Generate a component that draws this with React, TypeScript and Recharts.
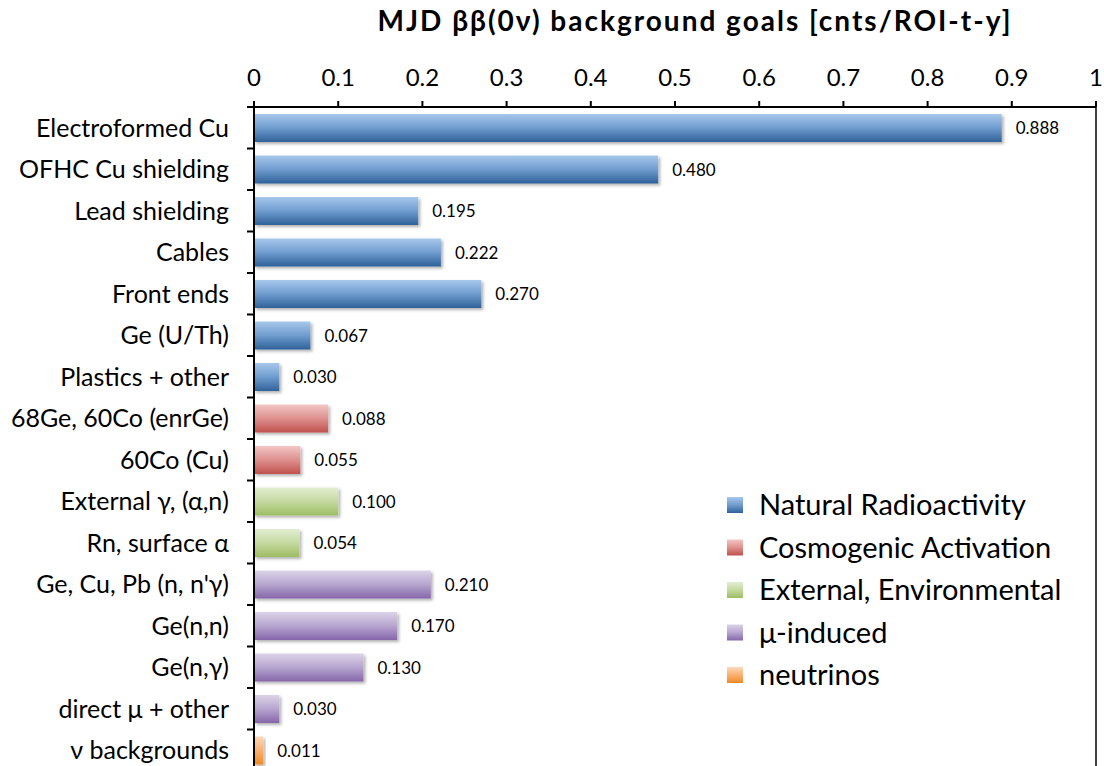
import {
  Bar,
  BarChart,
  Cell,
  LabelList,
  Legend,
  ReferenceLine,
  XAxis,
  YAxis,
} from "recharts";

const categories = [
  "Electroformed Cu",
  "OFHC Cu shielding",
  "Lead shielding",
  "Cables",
  "Front ends",
  "Ge (U/Th)",
  "Plastics + other",
  "68Ge, 60Co (enrGe)",
  "60Co (Cu)",
  "External γ, (α,n)",
  "Rn, surface α",
  "Ge, Cu, Pb (n, n'γ)",
  "Ge(n,n)",
  "Ge(n,γ)",
  "direct μ + other",
  "ν backgrounds",
];
const goals = [
  0.888, 0.48, 0.195, 0.222, 0.27, 0.067, 0.03, 0.088, 0.055, 0.1, 0.054, 0.21,
  0.17, 0.13, 0.03, 0.011,
];
const groupOf = [0, 0, 0, 0, 0, 0, 0, 1, 1, 2, 2, 3, 3, 3, 3, 4];
const groups = [
  "Natural Radioactivity",
  "Cosmogenic Activation",
  "External, Environmental",
  "μ-induced",
  "neutrinos",
];
const xTicks = [0, 0.1, 0.2, 0.3, 0.4, 0.5, 0.6, 0.7, 0.8, 0.9, 1];

// light top -> dark bottom, one per group
const shades = [
  ["#a7c8ec", "#6f9ccf", "#2f6199"],
  ["#f3c6c5", "#dd908e", "#c0504d"],
  ["#e3eed2", "#c4d9a0", "#9dbd62"],
  ["#dcd3e8", "#b6a5cf", "#8566aa"],
  ["#fdd9b9", "#f9b070", "#f08a26"],
];

const FONT = "Lato, 'Open Sans', sans-serif";
const AXIS_W = 246;
const PLOT_LEFT = 8 + AXIS_W;
const BAND = 664 / categories.length;

const data = categories.map((name, i) => ({
  name,
  goal: goals[i],
  group: groupOf[i],
}));

function CategoryTick({ y, payload }: any) {
  return (
    <g>
      <line
        x1={PLOT_LEFT - 7}
        x2={PLOT_LEFT}
        y1={y - BAND / 2}
        y2={y - BAND / 2}
        stroke="#000"
        strokeWidth={2}
      />
      <text
        x={PLOT_LEFT - 25}
        y={y}
        dy="0.36em"
        textAnchor="end"
        fontSize={25}
        fontFamily={FONT}
        fill="#000"
      >
        {payload.value}
      </text>
    </g>
  );
}

function GroupLegend() {
  return (
    <svg width={380} height={235} style={{ display: "block" }}>
      {groups.map((g, i) => (
        <g key={g} transform={`translate(0, ${12 + i * 42.5})`}>
          <rect x={0} y={0} width={16} height={16} fill={`url(#grad${i})`} />
          <text
            x={32}
            y={8}
            dy="0.36em"
            fontSize={29}
            fontFamily={FONT}
            fill="#000"
          >
            {g}
          </text>
        </g>
      ))}
    </svg>
  );
}

export default function App() {
  return (
    <div
      style={{
        position: "absolute",
        left: 0,
        top: 0,
        width: 1104,
        height: 766,
        overflow: "hidden",
        background: "#fff",
      }}
    >
      <svg
        width={1104}
        height={60}
        style={{ position: "absolute", left: 0, top: 0, zIndex: 1 }}
      >
        <text
          x={695}
          y={31}
          textAnchor="middle"
          fontSize={28}
          fontWeight="bold"
          letterSpacing={2}
          fontFamily={FONT}
          fill="#000"
        >
          MJD ββ(0ν) background goals [cnts/ROI-t-y]
        </text>
      </svg>
      <BarChart
        width={1104}
        height={780}
        data={data}
        layout="vertical"
        margin={{ top: 8, right: 8, bottom: 9, left: 8 }}
      >
        <defs>
          {shades.map((s, i) => (
            <linearGradient key={i} id={`grad${i}`} x1="0" y1="0" x2="0" y2="1">
              <stop offset="0%" stopColor={s[0]} />
              <stop offset="50%" stopColor={s[1]} />
              <stop offset="100%" stopColor={s[2]} />
            </linearGradient>
          ))}
          <filter id="barShadow" x="-10%" y="-20%" width="130%" height="160%">
            <feDropShadow dx="2" dy="2" stdDeviation="1.5" floodColor="#000" floodOpacity="0.3" />
          </filter>
        </defs>
        <XAxis
          type="number"
          orientation="top"
          domain={[0, 1]}
          ticks={xTicks}
          interval={0}
          height={99}
          tickSize={6}
          tickMargin={15}
          axisLine={{ stroke: "#000", strokeWidth: 2 }}
          tickLine={{ stroke: "#000", strokeWidth: 2 }}
          tick={{ fill: "#000", fontSize: 24, fontFamily: FONT }}
          allowDataOverflow
        />
        <YAxis
          type="category"
          dataKey="name"
          width={AXIS_W}
          interval={0}
          tickLine={false}
          axisLine={{ stroke: "#000", strokeWidth: 2 }}
          tick={<CategoryTick />}
        />
        <ReferenceLine x={1} stroke="#000" strokeWidth={1.5} />
        <Legend
          layout="horizontal"
          verticalAlign="middle"
          align="center"
          content={<GroupLegend />}
          wrapperStyle={{ left: 727, top: 485, width: 380 }}
        />
        <Bar
          dataKey="goal"
          barSize={28}
          isAnimationActive={false}
          filter="url(#barShadow)"
          legendType="none"
        >
          {data.map((d) => (
            <Cell key={d.name} fill={`url(#grad${d.group})`} />
          ))}
          <LabelList
            dataKey="goal"
            position="right"
            offset={14}
            formatter={(v: any) => Number(v).toFixed(3)}
            style={{ fill: "#000", fontSize: 17, fontFamily: FONT }}
          />
        </Bar>
      </BarChart>
    </div>
  );
}
